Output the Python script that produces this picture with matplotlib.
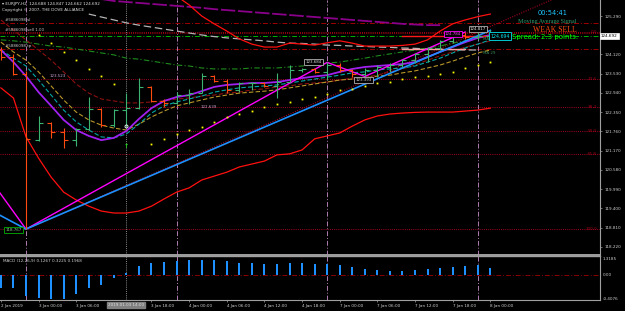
import numpy as np
import matplotlib
matplotlib.use('Agg')
import matplotlib.pyplot as plt

plt.rcParams['font.family'] = ['DejaVu Sans']

W, H = 625, 311

# ---------------- data ----------------
bar_open = [124.25, 124.05, 123.52, 121.49, 122.02, 121.75, 121.49, 121.82, 122.43, 121.95,
            122.41, 122.46, 123.13, 122.70, 122.62, 122.87, 122.94, 123.45, 123.31, 123.03,
            123.23, 123.25, 123.15, 123.28, 123.64, 123.66, 123.59, 123.79, 123.64, 123.52,
            123.64, 123.74, 123.79, 123.94, 124.13, 124.30, 124.53, 124.71, 124.65, 124.688]
bar_high = [124.35, 124.12, 123.60, 122.23, 122.05, 121.85, 121.85, 122.80, 122.47, 122.43,
            122.94, 123.38, 123.15, 122.74, 122.97, 123.05, 123.56, 123.48, 123.35, 123.28,
            123.28, 123.28, 123.54, 123.79, 123.69, 123.69, 123.88, 123.84, 123.66, 123.69,
            123.79, 123.84, 123.97, 124.15, 124.35, 124.56, 124.78, 124.80, 124.79, 124.847]
bar_low = [123.95, 123.48, 118.767, 121.46, 121.55, 121.24, 121.31, 121.80, 121.90, 121.90,
           121.90, 122.44, 122.67, 122.51, 122.60, 122.60, 122.92, 123.28, 122.92, 122.97,
           123.03, 123.13, 122.77, 123.28, 123.59, 123.56, 123.33, 123.59, 123.43, 123.44,
           123.43, 123.59, 123.72, 123.84, 123.89, 124.25, 124.47, 124.60, 124.55, 124.662]
bar_close = [124.05, 123.52, 121.53, 122.02, 121.75, 121.49, 121.82, 122.43, 121.95, 122.41,
             122.46, 123.13, 122.70, 122.62, 122.87, 122.94, 123.45, 123.31, 123.03, 123.23,
             123.25, 123.15, 123.28, 123.64, 123.66, 123.59, 123.79, 123.64, 123.52, 123.64,
             123.74, 123.79, 123.94, 124.13, 124.30, 124.53, 124.71, 124.65, 124.688, 124.692]

ma_fast = [124.25, 123.88, 123.45, 122.96, 122.54, 122.11, 121.80, 121.62, 121.49, 121.56,
           121.77, 122.14, 122.47, 122.69, 122.81, 122.87, 122.99, 123.12, 123.18, 123.21,
           123.24, 123.24, 123.27, 123.33, 123.39, 123.44, 123.48, 123.58, 123.67, 123.73,
           123.76, 123.79, 123.82, 123.88, 124.04, 124.19, 124.34, 124.49, 124.62, 124.71]
ma_teal = [124.25, 124.00, 123.76, 123.33, 122.87, 122.41, 122.05, 121.80, 121.59, 121.56,
           121.68, 121.98, 122.32, 122.54, 122.66, 122.75, 122.84, 122.96, 123.03, 123.09,
           123.12, 123.15, 123.18, 123.24, 123.30, 123.36, 123.42, 123.48, 123.55, 123.58,
           123.64, 123.67, 123.70, 123.76, 123.88, 124.00, 124.16, 124.31, 124.43, 124.56]
ma_olive = [124.49, 124.19, 123.94, 123.58, 123.15, 122.72, 122.35, 122.11, 121.95, 121.86,
            121.80, 121.98, 122.20, 122.38, 122.54, 122.63, 122.72, 122.81, 122.87, 122.93,
            122.96, 122.99, 123.03, 123.09, 123.15, 123.21, 123.27, 123.33, 123.36, 123.39,
            123.45, 123.48, 123.55, 123.61, 123.70, 123.79, 123.91, 124.04, 124.16, 124.25]
ma_darkred = [125.17, 124.86, 124.56, 124.25, 123.94, 123.58, 123.21, 122.93, 122.75, 122.69,
              122.63, 122.63, 122.66, 122.69, 122.75, 122.78, 122.84, 122.87, 122.93, 122.96,
              123.03, 123.06, 123.12, 123.15, 123.21, 123.24, 123.27, 123.33, 123.39, 123.42,
              123.48, 123.58, 123.67, 123.79, 123.94, 124.07, 124.19, 124.34, 124.43, 124.53]
ma_green = [124.56, 124.53, 124.49, 124.43, 124.37, 124.34, 124.28, 124.22, 124.16, 124.10,
            124.00, 123.97, 123.91, 123.85, 123.79, 123.76, 123.70, 123.67, 123.67, 123.67,
            123.70, 123.70, 123.70, 123.73, 123.76, 123.79, 123.85, 123.88, 123.94, 124.00,
            124.07, 124.13, 124.19, 124.25, 124.31, 124.37, 124.46, 124.53, 124.62, 124.68]
ma_gray = [None] * 7 + [125.35, 125.26, 125.17, 125.08, 125.01, 124.95, 124.89, 124.83,
                        124.77, 124.71, 124.66, 124.62, 124.59, 124.56, 124.53, 124.49,
                        124.46, 124.45, 124.43, 124.40, 124.39, 124.37, 124.36, 124.34,
                        124.33, 124.31, 124.30, 124.28, 124.28, 124.26, 124.25, 124.25, None]
ma_long_purple = [None] * 8 + [125.81, 125.75, 125.72, 125.69, 125.66, 125.63, 125.60, 125.57,
                               125.54, 125.50, 125.47, 125.44, 125.41, 125.38, 125.35, 125.32,
                               125.29, 125.26, 125.23, 125.20, 125.17, 125.14, 125.11, 125.08,
                               125.05, 125.03, 125.01, 125.01] + [None] * 4
band_upper = [None] * 13 + [126.15, 125.90, 125.63, 125.29, 125.05, 124.83, 124.59, 124.43,
                            124.34, 124.34, 124.46, 124.43, 124.40, 124.47, 124.53, 124.46,
                            124.37, 124.37, 124.37, 124.39, 124.43, 124.56, 124.83, 125.05,
                            125.17, 125.27, 125.35]
band_lower = [123.09, 122.78, 121.59, 120.94, 120.36, 119.90, 119.66, 119.47, 119.32, 119.26,
              119.26, 119.32, 119.47, 119.69, 119.90, 120.03, 120.27, 120.39, 120.51, 120.67,
              120.76, 120.85, 121.04, 121.07, 121.19, 121.53, 121.62, 121.71, 121.92, 122.11,
              122.23, 122.29, 122.32, 122.34, 122.35, 122.35, 122.35, 122.38, 122.41, 122.47]
sar = [None, None, None, 124.71, 124.46, 124.19, 123.94, 123.67, 123.45, 123.21,
       None, None, 121.37, 121.53, 121.68, 121.80, 121.89, 122.05, 122.20, 122.29,
       122.38, 122.51, 122.60, 122.66, 122.75, 122.81, 122.90, 123.01, 123.06, 123.15,
       123.24, 123.27, 123.36, 123.42, 123.45, 123.52, 123.58, 123.70, 123.79, 123.88]
macd_hist = [-0.224, -0.224, -0.361, -0.396, -0.413, -0.413, -0.327, -0.224, -0.172, -0.052,
             0.046, 0.160, 0.218, 0.236, 0.246, 0.263, 0.263, 0.263, 0.253, 0.218,
             0.206, 0.194, 0.194, 0.206, 0.206, 0.194, 0.194, 0.177, 0.150, 0.108,
             0.091, 0.081, 0.081, 0.091, 0.108, 0.126, 0.150, 0.160, 0.177, 0.127]

zigzag_idx = [-8, 2, 26, 29, 37]
zigzag_val = [124.10, 118.767, 123.87, 123.44, 124.80]
trend_idx = [-1, 2, 39]
trend_val = [119.38, 118.767, 124.85]
fib_low, fib_high = 118.767, 124.80
fib_start, fib_end = 2, 38
fib_levels = [0.0, 23.6, 38.2, 50.0, 61.8, 100.0]
order_sl, order_entry, order_tp = 125.09, 124.785, 124.28
bid = 124.692
signal_line = 124.68
signal_line2 = 124.27

price_ticks = [125.290, 124.120, 123.530, 122.940, 122.350, 121.760, 121.170,
               120.580, 119.990, 119.400, 118.810, 118.220]
time_tick_idx = [0, 3, 6, 12, 15, 18, 21, 24, 27, 30, 33, 36, 39]
time_tick_labels = ['2 Jan 2019', '3 Jan 00:00', '3 Jan 06:00', '3 Jan 18:00', '4 Jan 00:00',
                    '4 Jan 06:00', '4 Jan 12:00', '4 Jan 18:00', '7 Jan 00:00', '7 Jan 06:00',
                    '7 Jan 12:00', '7 Jan 18:00', '8 Jan 00:00']
separator_idx = [2, 14, 26, 38]
cursor_idx = 10
cursor_label = '2019.01.03 14:00'

# ---------------- figure ----------------
fig = plt.figure(figsize=(W / 100, H / 100), dpi=100, facecolor='black')
ax = fig.add_axes([0, 1 - 255 / H, 600 / W, 255 / H], facecolor='black')
ax2 = fig.add_axes([0, 1 - 300 / H, 600 / W, 44 / H], facecolor='black')

XMIN, XMAX = -0.072, 47.74
ax.set_xlim(XMIN, XMAX)
ax.set_ylim(117.975, 125.78)
ax2.set_xlim(XMIN, XMAX)
ax2.set_ylim(-0.425, 0.332)

n = len(bar_open)
idx = np.arange(n)
O = np.array(bar_open); Hh = np.array(bar_high); L = np.array(bar_low); C = np.array(bar_close)

DOT = (0, (1, 1.2))
DASHDOT = (0, (5, 2, 1, 2))
FIBRED = '#a0001e'

# fib horizontal levels
for lv in fib_levels:
    p = fib_high - (fib_high - fib_low) * lv / 100.0
    ax.axhline(p, color=FIBRED, lw=0.7, ls=DOT, zorder=1)
    ax.text(XMAX - 0.25, p, f'{lv:.1f}', color=FIBRED, fontsize=3, ha='right', va='center', zorder=6)

# order lines
ax.axhline(order_sl, color='#a00000', lw=0.7, ls=DASHDOT, zorder=1)
ax.axhline(order_entry, color='#a00000', lw=0.7, ls=DOT, zorder=1)
ax.axhline(order_tp, color='#a00000', lw=0.7, ls=DASHDOT, zorder=1)
ax.axhline(bid, color='#00b000', lw=0.7, ls=DASHDOT, zorder=1)
for val, lab in [(order_sl, '#5886098 sl'), (order_entry, '#5886098 sell 1.00'), (order_tp, '#5886098 tp')]:
    ax.text(0.3, val + 0.02, lab, color='#c8c8c8', fontsize=2.9, ha='left', va='bottom', zorder=6)

# vertical separators and cursor
for axx in (ax, ax2):
    for s in separator_idx:
        axx.axvline(s, color='#b07cb0', lw=0.7, ls=DASHDOT, zorder=1)
    axx.axvline(cursor_idx, color='#8a8a8a', lw=0.7, ls=DOT, zorder=1)

# fib diagonal ray
slope = (fib_high - fib_low) / (fib_end - fib_start)
ax.plot([fib_start, XMAX], [fib_low, fib_low + slope * (XMAX - fib_start)],
        color=FIBRED, lw=0.8, ls=DOT, zorder=2)

# moving averages & bands
def arr(v):
    return np.array(v, dtype=float)

ax.plot(idx, arr(ma_long_purple), color='#8b008b', lw=1.3, ls=(0, (8, 1.5)), zorder=2)
ax.plot(idx, arr(ma_gray), color='#b4b4b4', lw=0.9, ls=(0, (6, 3)), zorder=2)
ax.plot(idx, arr(ma_green), color='#1e8c1e', lw=0.8, ls=DASHDOT, zorder=2)
ax.plot(idx, arr(ma_darkred), color='#8b1010', lw=0.8, ls=(0, (4, 2)), zorder=2)
ax.plot(idx, arr(ma_olive), color='#b8962a', lw=0.8, ls=(0, (4, 2)), zorder=2)
ax.plot(idx, arr(ma_teal), color='#00a6a6', lw=0.8, ls=(0, (4, 2)), zorder=2)
ax.plot(idx, arr(ma_fast), color='#a020f0', lw=1.3, zorder=3)
ax.plot(idx, arr(band_upper), color='#ff1010', lw=0.9, zorder=3)
ax.plot(idx, arr(band_lower), color='#ff1010', lw=0.9, zorder=3)

# signal horizontal segments
ax.plot([32, 39], [signal_line, signal_line], color='#ff1a1a', lw=1.0, zorder=3)
ax.plot([32, 37], [signal_line2, signal_line2], color='#ff9a9a', lw=1.0, zorder=3)

# trend lines
ax.plot(zigzag_idx, zigzag_val, color='#ff00ff', lw=1.0, zorder=4)
ax.plot(trend_idx, trend_val, color='#1e90ff', lw=1.2, zorder=4)

# SAR dots
ax.plot(idx, arr(sar), ls='none', marker='s', ms=1.3, color='#ffff00', mew=0, zorder=4)

# OHLC bars
UP, DOWN = '#3cb371', '#ff4a10'
cols = [UP if c >= o else DOWN for o, c in zip(O, C)]
tick = 0.32
ax.vlines(idx, L, Hh, colors=cols, lw=0.8, zorder=5)
ax.hlines(O, idx - tick, idx, colors=cols, lw=0.8, zorder=5)
ax.hlines(C, idx, idx + tick, colors=cols, lw=0.8, zorder=5)

# markers at cursor bar
ax.plot([cursor_idx], [bar_low[cursor_idx] + 0.02], marker='o', ms=2.2, mfc='none', mec='white', mew=0.6, zorder=6)
ax.text(cursor_idx, bar_low[cursor_idx] - 0.6, '↑', color='#22dd22', fontsize=4.5,
        ha='center', va='center', fontweight='bold', zorder=6)

# labels on chart
LAV = '#c8a0d0'
ax.text(3.9, 123.523 - 0.08, '123.523', color=LAV, fontsize=2.9, ha='left', va='center', zorder=6)
ax.text(15.9, 122.639 - 0.12, '122.639', color=LAV, fontsize=2.9, ha='left', va='center', zorder=6)

def boxlabel(x, y, s, ec, tc):
    ax.text(x, y, s, color=tc, fontsize=2.9, ha='center', va='center', zorder=7,
            bbox=dict(boxstyle='square,pad=0.25', fc='black', ec=ec, lw=0.6))

boxlabel(24.9, zigzag_val[2] - 0.0, '123.684', '#b0b0b0', '#d8d8d8')
boxlabel(28.9, zigzag_val[3] - 0.12, '123.393', '#b0b0b0', '#d8d8d8')
boxlabel(36.0, zigzag_val[4] - 0.05, '124.784', '#ff00ff', '#ff40ff')
boxlabel(38.0, 124.90, '124.817', '#b0b0b0', '#e8e8e8')
boxlabel(1.0, zigzag_val[1] - 0.02, '118.767', '#00b000', '#90c890')

ax.text(38.45, 124.58, 'MA 5', color='#3a8a5a', fontsize=2.9, ha='left', va='center', zorder=6)
ax.text(38.45, 124.17, 'MA 29', color='#3a8a5a', fontsize=2.9, ha='left', va='center', zorder=6)

# ---------------- figure-level overlay text ----------------
def ftext(x, y, s, **kw):
    fig.text(x / W, 1 - y / H, s, **kw)

ftext(2, 4.5, '▾ EURJPY,H2  124.688 124.847 124.662 124.692', color='#e0e0e0', fontsize=3, va='center')
ftext(2, 10.5, 'Copyright © 2007, THE DOVE ALLIANCE', color='#e0e0e0', fontsize=3, va='center')
ftext(553, 13, '00:54:41', color='#1ec8ff', fontsize=4.8, ha='center', va='center')
ftext(518, 21, 'Moving Average Signal', color='#2e9e6e', fontsize=4.4, va='center', family='Liberation Serif')
ftext(533, 29.5, 'WEAK SELL', color='#ff4a10', fontsize=5.6, va='center', family='Liberation Serif')
ftext(500, 36.2, '124.694', color='#00e5ee', fontsize=3.4, ha='center', va='center',
      bbox=dict(boxstyle='square,pad=0.3', fc='black', ec='#00c8d0', lw=0.7))
ftext(512, 37.5, 'Spread: 2.3 points.', color='#00ff00', fontsize=5, va='center')

# right axis price labels
ax.yaxis.tick_right()
ax.set_yticks(price_ticks)
ax.set_yticklabels([f'{p:.3f}' for p in price_ticks])
ax.tick_params(axis='y', colors='#a0a0a0', labelcolor='#d0d0d0', labelsize=3, length=1.5, width=0.5, pad=1.5)
ax.set_xticks([])
ftext(601, 35.8, f'{bid:.3f}', color='black', fontsize=3, va='center',
      bbox=dict(boxstyle='square,pad=0.2', fc='white', ec='white', lw=0.5))

# MACD panel
ax2.bar(idx, macd_hist, width=0.16, color='#1e90ff', zorder=3)
ax2.axhline(0, color='#8b0000', lw=0.7, ls=DASHDOT, zorder=2)
ax2.set_yticks([])
ax2.set_xticks(time_tick_idx)
ax2.set_xticklabels(time_tick_labels)
for lab in ax2.get_xticklabels():
    lab.set_ha('left')
ax2.tick_params(axis='x', colors='#a0a0a0', labelcolor='#d0d0d0', labelsize=3, length=1.5, width=0.5, pad=1.5)
ax2.text(cursor_idx, -0.12, cursor_label, transform=ax2.get_xaxis_transform(), color='#e0e0e0',
         fontsize=3, ha='center', va='center', clip_on=False,
         bbox=dict(boxstyle='square,pad=0.25', fc='#808080', ec='#808080'))
ftext(3, 261.5, 'MACD (12,26,9) 0.1267 0.3225 0.1968', color='#d0d0d0', fontsize=3, va='center')
ftext(603, 258.5, '1.3185', color='#d0d0d0', fontsize=3, va='center')
ftext(603, 275.5, '0.00', color='#d0d0d0', fontsize=3, va='center')
ftext(603, 298.5, '-0.4076', color='#d0d0d0', fontsize=3, va='center')

# spines
for axx in (ax, ax2):
    for sp in axx.spines.values():
        sp.set_visible(False)
    axx.spines['right'].set_visible(True)
    axx.spines['right'].set_color('#a0a0a0')
    axx.spines['right'].set_linewidth(0.8)
ax.spines['bottom'].set_visible(True)
ax.spines['bottom'].set_color('#a0a0a0')
ax.spines['bottom'].set_linewidth(1.4)
ax2.spines['top'].set_visible(True)
ax2.spines['top'].set_color('#a0a0a0')
ax2.spines['top'].set_linewidth(1.0)
ax2.spines['bottom'].set_visible(True)
ax2.spines['bottom'].set_color('#a0a0a0')
ax2.spines['bottom'].set_linewidth(0.8)

fig.savefig('out.png', dpi=100, facecolor='black')
